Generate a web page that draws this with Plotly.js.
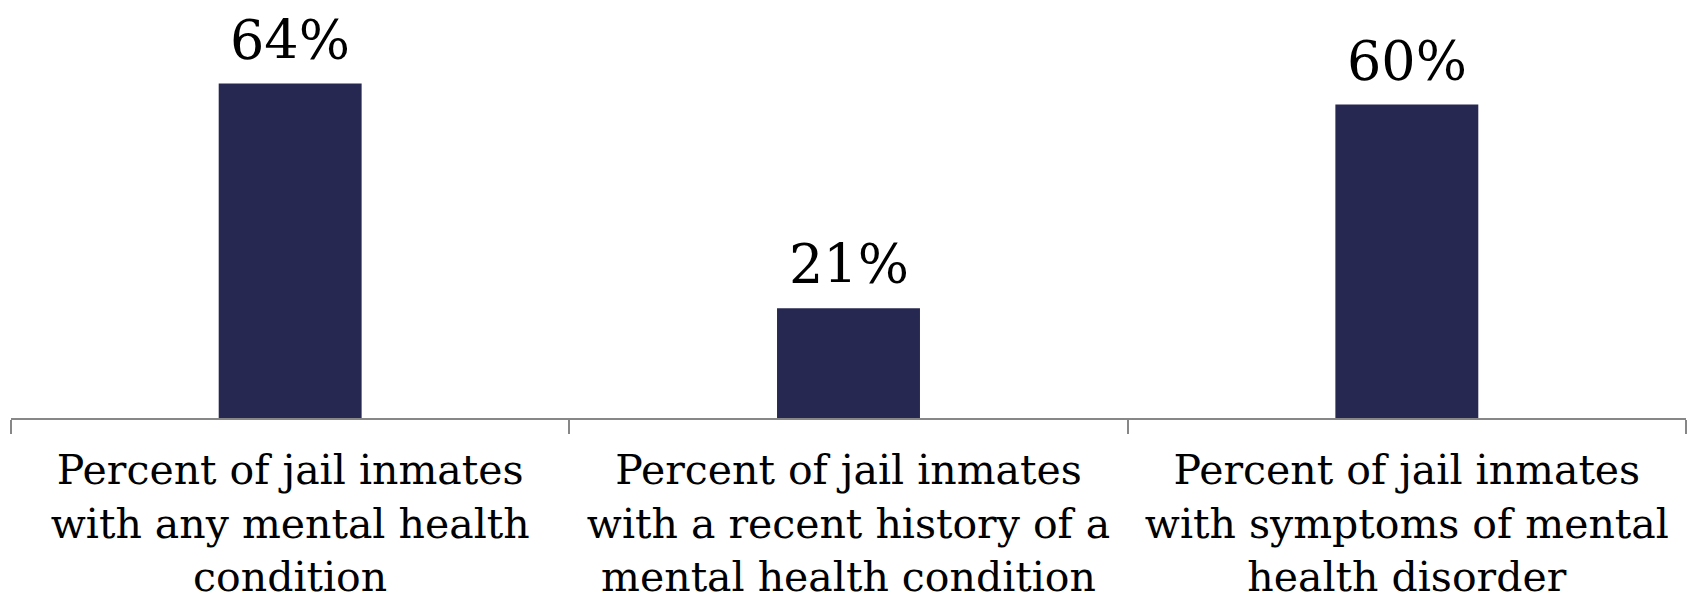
<!DOCTYPE html>
<html>
<head>
<meta charset="utf-8">
<script src="https://cdn.plot.ly/plotly-3.0.1.min.js"></script>
<style>html,body{margin:0;padding:0;background:#fff;}#chart{width:1691px;height:606px;}</style>
</head>
<body>
<div id="chart"></div>
<script>
const categories = [
  "Percent of jail inmates<br>with any mental health<br>condition",
  "Percent of jail inmates<br>with a recent history of a<br>mental health condition",
  "Percent of jail inmates<br>with symptoms of mental<br>health disorder"
];
const values = [64, 21, 60];
const valueLabels = ["64%", "21%", "60%"];

const trace = {
  type: "bar",
  x: categories,
  y: values,
  marker: {color: "#272851", line: {width: 0}},
  hoverinfo: "none"
};

const annotations = categories.map((c, i) => ({
  x: c,
  y: values[i],
  xref: "x",
  yref: "y",
  text: valueLabels[i],
  showarrow: false,
  yanchor: "bottom",
  xanchor: "center",
  yshift: 10,
  font: {family: "DejaVu Serif, serif", size: 54, color: "#000000"}
}));

const layout = {
  width: 1691,
  height: 606,
  margin: {l: 11, r: 5, t: 0, b: 188},
  paper_bgcolor: "#ffffff",
  plot_bgcolor: "#ffffff",
  bargap: 0.744,
  showlegend: false,
  annotations: annotations,
  xaxis: {
    type: "category",
    range: [-0.5, 2.5],
    showline: true,
    linecolor: "#878787",
    linewidth: 2,
    ticks: "outside",
    tickson: "boundaries",
    ticklen: 14,
    tickwidth: 2,
    tickcolor: "#878787",
    ticklabelstandoff: 15,
    showgrid: false,
    zeroline: false,
    tickangle: 0,
    automargin: false,
    tickfont: {family: "DejaVu Serif, serif", size: 41, color: "#000000"}
  },
  yaxis: {
    range: [0, 80],
    visible: false,
    showgrid: false,
    zeroline: false,
    fixedrange: true
  }
};

Plotly.newPlot("chart", [trace], layout, {displayModeBar: false, staticPlot: true});
</script>
</body>
</html>
